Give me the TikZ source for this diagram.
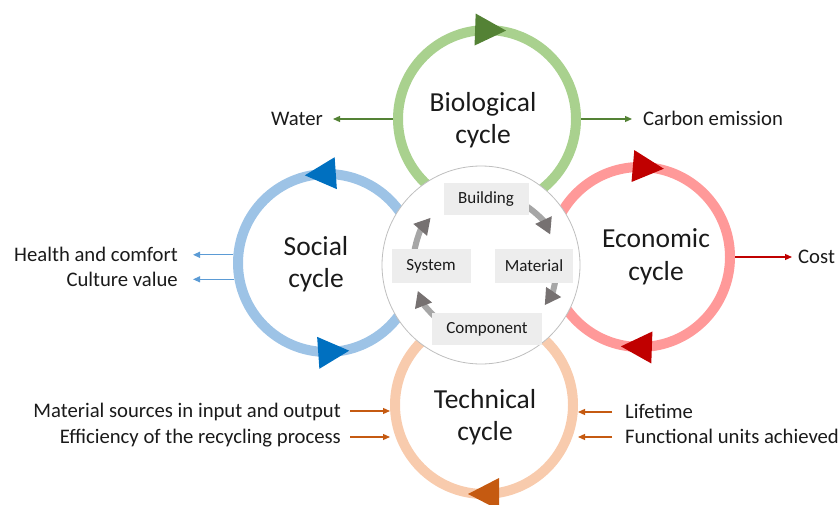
\documentclass[tikz,border=0pt]{standalone}
\usepackage{fontspec}
\setmainfont{Carlito}
\usetikzlibrary{arrows.meta}
\definecolor{grnring}{HTML}{A9D18E}
\definecolor{grndark}{HTML}{548235}
\definecolor{bluring}{HTML}{9DC3E6}
\definecolor{bludark}{HTML}{0070C0}
\definecolor{bluline}{HTML}{5B9BD5}
\definecolor{redring}{HTML}{FF9999}
\definecolor{reddark}{HTML}{C00000}
\definecolor{orring}{HTML}{F8CBAD}
\definecolor{ordark}{HTML}{C55A11}
\definecolor{boxgray}{HTML}{EDEDED}
\definecolor{arcgray}{HTML}{A6A6A6}
\definecolor{tipgray}{HTML}{767171}
\definecolor{txt}{HTML}{1A1A1A}
\newcommand{\ringtip}[5]{%
  \begin{scope}[shift={(#1)}, rotate=#3]
    \fill[#5] ({#2-16},{-15*(#4)}) -- ({#2+16},{-15*(#4)}) -- (#2,{16*(#4)}) -- cycle;
  \end{scope}}
\begin{document}
\begin{tikzpicture}[x=1pt,y=1pt,
  ring/.style={circle, draw=#1, line width=10pt, minimum size=178pt, inner sep=0pt},
  cyclabel/.style={font=\fontsize{27.5}{32.5}\selectfont, align=center, text=txt},
  sidelabel/.style={font=\fontsize{20.7}{24}\selectfont, text=txt, inner sep=0pt, text height=13.5pt, text depth=0pt},
  stagebox/.style={fill=boxgray, font=\fontsize{17}{20}\selectfont, text=txt, inner sep=0pt},
  feed/.style={line width=1.2pt, draw=#1, -{Triangle[length=7pt,width=6pt,color=#1]}},
  flow/.style={line width=6pt, draw=arcgray, -{Triangle[length=16pt,width=17pt,color=tipgray]}}
]
\path[use as bounding box] (0,0) rectangle (840,504);

% outer cycle rings
\node[ring=grnring] (bio) at (487,385) {};
\node[ring=bluring] (social) at (327,241) {};
\node[ring=redring, minimum size=180pt] (econ) at (640,247) {};
\node[ring=orring] (tech) at (484,99) {};

% ring arrowheads
\ringtip{487,385}{89}{88}{-1}{grndark}
\ringtip{327,241}{89}{94}{1}{bludark}
\ringtip{327,241}{89}{274}{1}{bludark}
\ringtip{640,247}{90}{85}{-1}{reddark}
\ringtip{640,247}{90}{268}{-1}{reddark}
\ringtip{484,99}{89}{270}{-1}{ordark}

% central circle
\node[circle, draw=black!25, fill=white, line width=0.8pt, minimum size=198pt] (core) at (481,239) {};
\coordinate (gc) at (485,239);
\draw[flow] ([shift={(60:72)}]gc) arc[start angle=60, end angle=25, radius=72];
\draw[flow] ([shift={(-5:72)}]gc) arc[start angle=-5, end angle=-34, radius=72];
\draw[flow] ([shift={(230:72)}]gc) arc[start angle=230, end angle=201, radius=72];
\draw[flow] ([shift={(175:72)}]gc) arc[start angle=175, end angle=139, radius=72];

\node[stagebox, minimum width=85pt, minimum height=32pt] (building) at (486,305) {Building};
\node[stagebox, minimum width=79pt, minimum height=34pt] (system) at (431,238) {System};
\node[stagebox, minimum width=78pt, minimum height=34pt] (material) at (534,238) {Material};
\node[stagebox, minimum width=110pt, minimum height=32pt] (component) at (487,175) {Component};

% cycle labels
\node[cyclabel] (biolab) at (483,384) {Biological\\cycle};
\node[cyclabel] (soclab) at (316,240) {Social\\cycle};
\node[cyclabel] (ecolab) at (656,247) {Economic\\cycle};
\node[cyclabel] (techlab) at (485,87) {Technical\\cycle};

% side labels
\node[sidelabel, anchor=east] (water) at (323,385) {Water};
\node[sidelabel, anchor=west] (carbon) at (643,385) {Carbon emission};
\node[sidelabel, anchor=east] (health) at (178,249) {Health and comfort};
\node[sidelabel, anchor=east] (culture) at (178,224) {Culture value};
\node[sidelabel, anchor=west] (cost) at (798,247) {Cost};
\node[sidelabel, anchor=east] (matsrc) at (341,93) {Material sources in input and output};
\node[sidelabel, anchor=east] (effic) at (341,67) {Efficiency of the recycling process};
\node[sidelabel, anchor=west] (life) at (625,92) {Lifetime};
\node[sidelabel, anchor=west] (func) at (625,67) {Functional units achieved};

% connectors
\draw[feed=grndark, shorten >=10pt] (bio.west) -- (water.east);
\draw[feed=grndark, shorten >=11pt] (bio.east) -- (carbon.west);
\draw[feed=bluline, shorten >=15pt] (social.175) -- (social.175 -| health.east);
\draw[feed=bluline, shorten >=15pt] (social.190) -- (social.190 -| culture.east);
\draw[feed=reddark, shorten >=6pt] (econ.east) -- (cost.west);
\draw[feed=ordark, shorten <=9pt] (matsrc.east) -- (matsrc.east -| tech.west);
\draw[feed=ordark, shorten <=9pt] (effic.east) -- (effic.east -| tech.west);
\draw[feed=ordark, shorten <=13pt] (life.west) -- (life.west -| tech.east);
\draw[feed=ordark, shorten <=13pt] (func.west) -- (func.west -| tech.east);
\end{tikzpicture}
\end{document}
